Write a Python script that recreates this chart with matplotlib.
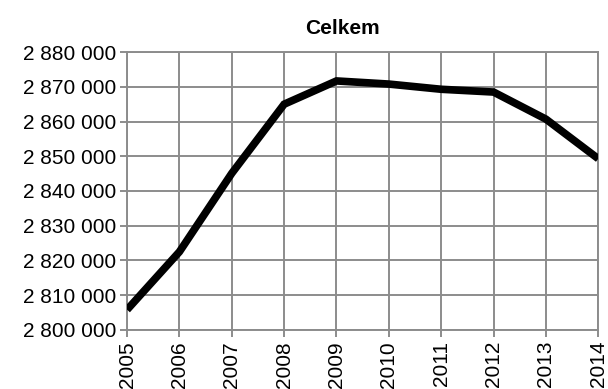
import numpy as np
import matplotlib.pyplot as plt
from matplotlib.ticker import FuncFormatter

years = [2005, 2006, 2007, 2008, 2009, 2010, 2011, 2012, 2013, 2014]
celkem = [2805800, 2822500, 2845100, 2865000, 2871700, 2870800,
          2869300, 2868500, 2860700, 2849300]

plt.rcParams['font.family'] = ['Liberation Sans', 'DejaVu Sans']


def thousands(v, pos):
    return f"{int(v):,}".replace(",", " ")


fig = plt.figure(figsize=(6.08, 3.89), dpi=100)
ax = fig.add_axes([0.209, 0.152, 0.775, 0.714])

ax.plot(years, celkem, color='black', linewidth=5.5, solid_capstyle='butt',
        solid_joinstyle='miter', zorder=3)

ax.set_xlim(years[0], years[-1])
ax.set_ylim(2800000, 2880000)
ax.set_yticks(np.arange(2800000, 2880001, 10000))
ax.set_xticks(years)
ax.set_xticklabels([str(y) for y in years], rotation=90)
ax.yaxis.set_major_formatter(FuncFormatter(thousands))

ax.grid(True, color='#8c8c8c', linewidth=1.4)
ax.set_axisbelow(True)
for s in ax.spines.values():
    s.set_color('#8c8c8c')
    s.set_linewidth(1.4)
ax.tick_params(axis='both', colors='#8c8c8c', labelcolor='black',
               labelsize=15, length=5, width=1.4, pad=3)

# chart title sits a bit left of the plot-area centre
ax.set_title('Celkem', fontsize=15, fontweight='bold', x=0.457, pad=13)

fig.savefig('out.png', dpi=100)
